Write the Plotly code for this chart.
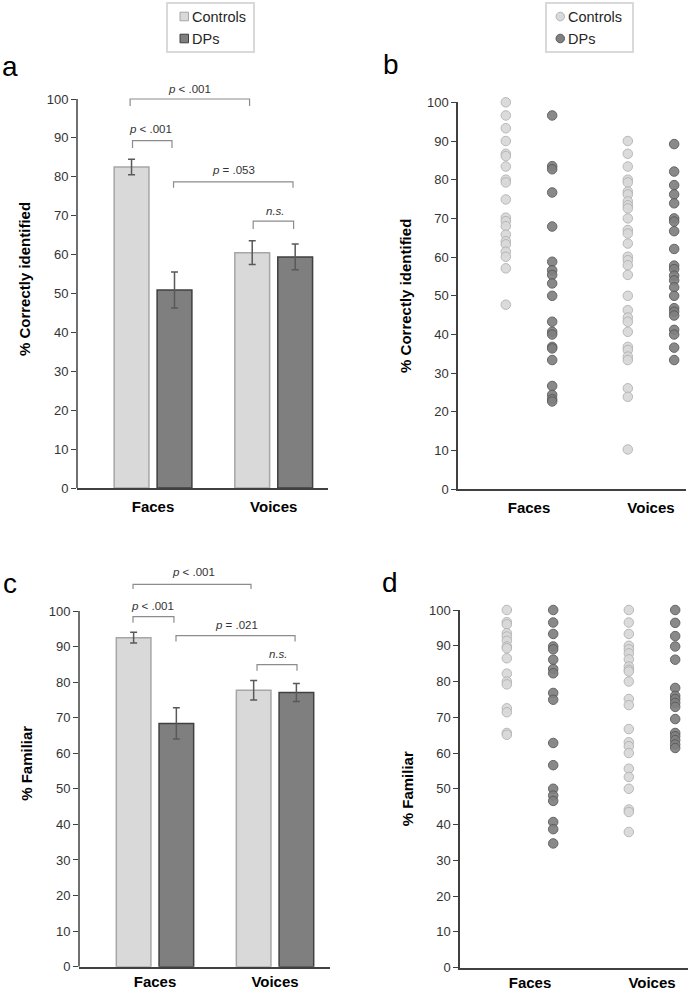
import plotly.graph_objects as go
import numpy as np

W, H = 697, 991
FONT = "Arial, Liberation Sans, sans-serif"

categories = ["Faces", "Voices"]
groups = ["Controls", "DPs"]

# ---- Panel a: % correctly identified (means, SEM)
id_controls_mean = [82.5, 60.5]
id_controls_err = [2.0, 3.05]
id_dps_mean = [50.9, 59.4]
id_dps_err = [4.6, 3.3]

# ---- Panel c: % familiar (means, SEM)
fam_controls_mean = [92.5, 77.7]
fam_controls_err = [1.5, 2.75]
fam_dps_mean = [68.4, 77.1]
fam_dps_err = [4.4, 2.55]

# ---- Panel b: individual % correctly identified
id_controls_faces = [100, 96.6, 93.3, 90.0, 86.7, 86.1, 83.4, 80.0, 79.3, 74.9,
                     70.2, 69.3, 68.0, 65.8, 64.1, 63.3, 61.4, 60.1, 57.1, 47.7]
id_dps_faces = [96.6, 83.5, 82.7, 76.7, 67.9, 58.8, 56.6, 55.4, 53.2, 50.0,
                43.3, 40.7, 40.0, 36.8, 36.4, 33.4, 26.7, 24.4, 23.3, 22.7]
id_controls_voices = [90.0, 86.7, 83.4, 80.0, 79.3, 76.9, 76.2, 74.4, 73.4, 72.6,
                      70.0, 67.0, 66.1, 63.5, 60.1, 59.2, 57.9, 55.4, 50.0, 46.3,
                      44.4, 43.3, 40.7, 36.8, 36.0, 34.3, 33.4, 26.1, 23.9, 10.3]
id_dps_voices = [89.2, 82.1, 78.6, 76.2, 73.9, 70.0, 69.2, 66.7, 62.1, 57.8,
                 56.9, 55.2, 54.0, 52.2, 50.0, 46.8, 45.9, 44.9, 41.2, 40.0,
                 36.6, 33.4]

# ---- Panel d: individual % familiar
fam_controls_faces = [100, 96.6, 96.0, 93.5, 92.6, 91.4, 89.8, 89.3, 86.5, 82.2,
                      80.0, 79.2, 72.5, 71.4, 65.6, 65.1]
fam_dps_faces = [100, 96.5, 93.3, 89.8, 89.0, 86.1, 83.5, 82.3, 76.8, 74.9,
                 62.8, 56.6, 50.0, 48.1, 46.6, 40.7, 38.7, 34.7]
fam_controls_voices = [100, 96.5, 93.3, 90.0, 89.0, 87.9, 86.2, 84.2, 83.3, 82.8,
                       80.0, 75.1, 73.4, 66.7, 63.0, 61.9, 60.0, 55.6, 53.3, 50.0,
                       44.2, 43.5, 37.9]
fam_dps_voices = [100, 96.4, 92.7, 89.8, 86.1, 78.2, 76.0, 75.1, 74.0, 72.9,
                  69.5, 65.6, 64.7, 63.6, 62.4, 61.4]

# significance annotations: (x0, x1, level, drop, label, text_x, text_y)
brackets_a = [
    (-0.19, 0.80, 100.0, 1.8, "<i>p</i> &lt; .001", 0.306, 102.7),
    (-0.17, 0.157, 89.3, 1.9, "<i>p</i> &lt; .001", -0.017, 92.4),
    (0.17, 1.16, 78.7, 1.5, "<i>p</i> = .053", 0.669, 81.8),
    (0.83, 1.165, 68.6, 2.0, "<i>n.s.</i>", 1.017, 71.3),
]
brackets_c = [
    (-0.183, 0.80, 107.5, 1.3, "<i>p</i> &lt; .001", 0.317, 110.9),
    (-0.183, 0.158, 98.4, 1.7, "<i>p</i> &lt; .001", -0.017, 101.5),
    (0.175, 1.167, 93.1, 1.7, "<i>p</i> = .021", 0.675, 96.2),
    (0.85, 1.183, 84.9, 1.7, "<i>n.s.</i>", 1.025, 88.0),
]

C_LIGHT = "#d9d9d9"
C_LIGHT_LINE = "#a6a6a6"
C_DARK = "#7f7f7f"
C_DARK_LINE = "#404040"
DOT_LIGHT_LINE = "#b3b3b3"
DOT_DARK = "#808080"
DOT_DARK_LINE = "#595959"
AX = "#404040"
DOT_OFF = 0.19


def fx(x):  # pixel -> paper x
    return x / W


def fy(y):  # pixel -> paper y
    return 1 - y / H


fig = go.Figure()
xpos = list(range(len(categories)))


def add_bars(means_c, err_c, means_d, err_d, xa, ya):
    for name, m, e, fill, line in [("Controls", means_c, err_c, C_LIGHT, C_LIGHT_LINE),
                                   ("DPs", means_d, err_d, C_DARK, C_DARK_LINE)]:
        fig.add_trace(go.Bar(
            x=xpos, y=m, name=name, xaxis=xa, yaxis=ya,
            marker=dict(color=fill, line=dict(color=line, width=1.5)),
            error_y=dict(type="data", array=e, color="#595959", thickness=1.5, width=3.5),
            showlegend=False,
        ))


def add_dots(faces_c, voices_c, faces_d, voices_d, xa, ya):
    for name, f, v, sign, fill, line in [("Controls", faces_c, voices_c, -1, C_LIGHT, DOT_LIGHT_LINE),
                                         ("DPs", faces_d, voices_d, 1, DOT_DARK, DOT_DARK_LINE)]:
        x = np.concatenate([np.full(len(f), xpos[0] + sign * DOT_OFF),
                            np.full(len(v), xpos[1] + sign * DOT_OFF)])
        y = np.concatenate([f, v])
        fig.add_trace(go.Scatter(
            x=x, y=y, mode="markers", name=name, xaxis=xa, yaxis=ya,
            marker=dict(size=9.5, color=fill, opacity=0.92, line=dict(color=line, width=1)),
            cliponaxis=False, showlegend=False,
        ))


add_bars(id_controls_mean, id_controls_err, id_dps_mean, id_dps_err, "x", "y")
add_dots(id_controls_faces, id_controls_voices, id_dps_faces, id_dps_voices, "x2", "y2")
add_bars(fam_controls_mean, fam_controls_err, fam_dps_mean, fam_dps_err, "x3", "y3")
add_dots(fam_controls_faces, fam_controls_voices, fam_dps_faces, fam_dps_voices, "x4", "y4")


def xdom(a, b):
    return [fx(a), fx(b)]


def ydom(top, bottom):
    return [fy(bottom), fy(top)]


xcommon = dict(showline=True, linecolor=AX, linewidth=2, ticks="", showgrid=False, zeroline=False,
               tickvals=xpos, ticktext=categories, automargin=False,
               tickfont=dict(family=FONT, size=15, color="#000000", weight="bold"), fixedrange=True)
ycommon = dict(ticks="outside", ticklen=5, tickwidth=1, tickcolor=AX, showgrid=False, zeroline=False,
               tickvals=list(range(0, 101, 10)), tickfont=dict(family=FONT, size=13, color="#333333"),
               automargin=False,
               title_font=dict(family=FONT, size=15, color="#000000", weight="bold"), title_standoff=12)

fig.update_layout(
    width=W, height=H, margin=dict(l=0, r=0, t=0, b=0, autoexpand=False),
    paper_bgcolor="white", plot_bgcolor="white", showlegend=False,
    barmode="group", bargap=0.288, bargroupgap=0.19,
    font=dict(family=FONT, color="#333333"),
    xaxis=dict(domain=xdom(77, 328), anchor="y", range=[-0.63, 1.45], ticklabelstandoff=4, **xcommon),
    yaxis=dict(domain=ydom(70, 488), anchor="x", range=[0, (488 - 70) / 3.89], showline=False,
               title_text="% Correctly identified", **ycommon),
    xaxis2=dict(domain=xdom(458, 686), anchor="y2", range=[-0.582, 1.287], ticklabelstandoff=4, **xcommon),
    yaxis2=dict(domain=ydom(102.3, 489.3), anchor="x2", range=[0, 100], showline=True,
                linecolor=AX, linewidth=1.5, title_text="% Correctly identified", **ycommon),
    xaxis3=dict(domain=xdom(79, 330), anchor="y3", range=[-0.633, 1.458], ticklabelstandoff=0, **xcommon),
    yaxis3=dict(domain=ydom(560, 966.7), anchor="x3", range=[0, (966.7 - 560) / 3.557], showline=False,
                title_text="% Familiar", **ycommon),
    xaxis4=dict(domain=xdom(460, 688), anchor="y4", range=[-0.574, 1.295], ticklabelstandoff=0, **xcommon),
    yaxis4=dict(domain=ydom(610, 967.5), anchor="x4", range=[0, 100], showline=True,
                linecolor=AX, linewidth=1.5, title_text="% Familiar", **ycommon),
)

# y-axis lines for bar panels (only up to 100)
for xr, yr in [("x domain", "y"), ("x3 domain", "y3")]:
    fig.add_shape(type="line", xref=xr, yref=yr, x0=0, x1=0, y0=0, y1=100,
                  line=dict(color=AX, width=1.5))

# significance brackets
for brs, xr, yr in [(brackets_a, "x", "y"), (brackets_c, "x3", "y3")]:
    for x0, x1, lev, drop, label, tx, ty in brs:
        fig.add_shape(type="path", xref=xr, yref=yr,
                      path=f"M {x0},{lev - drop} L {x0},{lev} L {x1},{lev} L {x1},{lev - drop}",
                      line=dict(color="#8c8c8c", width=1.2))
        fig.add_annotation(x=tx, y=ty, xref=xr, yref=yr, text=label, showarrow=False,
                           font=dict(family=FONT, size=11.5, color="#333333"),
                           xanchor="center", yanchor="middle")

# legends (boxes with swatches): a = bar squares, b = dot circles
legend_boxes = [(167, 254, "square", [C_LIGHT, C_DARK], [C_LIGHT_LINE, C_DARK_LINE]),
                (546, 633, "circle", [C_LIGHT, DOT_DARK], [DOT_LIGHT_LINE, DOT_DARK_LINE])]
for left, right, kind, fills, lines in legend_boxes:
    fig.add_shape(type="rect", xref="paper", yref="paper", x0=fx(left), x1=fx(right),
                  y0=fy(52), y1=fy(3), line=dict(color="#d9d9d9", width=2), fillcolor="white")
    for i, (g, fc, lc) in enumerate(zip(groups, fills, lines)):
        cy = 16.5 + 22 * i
        sx = left + 13 if kind == "square" else left + 10
        fig.add_shape(type="rect" if kind == "square" else "circle", xref="paper", yref="paper",
                      x0=fx(sx), x1=fx(sx + 8.5), y0=fy(cy + 4.3), y1=fy(cy - 4.3),
                      line=dict(color=lc, width=1), fillcolor=fc)
        fig.add_annotation(x=fx(sx + 10), y=fy(cy), xref="paper", yref="paper", text=g,
                           showarrow=False, xanchor="left", yanchor="middle",
                           font=dict(family=FONT, size=14.5, color="#262626"))

# panel letters
for letter, lx, ly in [("a", 0, 66), ("b", 381, 64), ("c", 1, 583), ("d", 380, 582)]:
    fig.add_annotation(x=fx(lx), y=fy(ly), xref="paper", yref="paper", text=letter,
                       showarrow=False, xanchor="left", yanchor="middle",
                       font=dict(family=FONT, size=28, color="#000000"))

fig.write_html("out.html", config={"displayModeBar": False},
               post_script="document.body.style.margin='0';")
